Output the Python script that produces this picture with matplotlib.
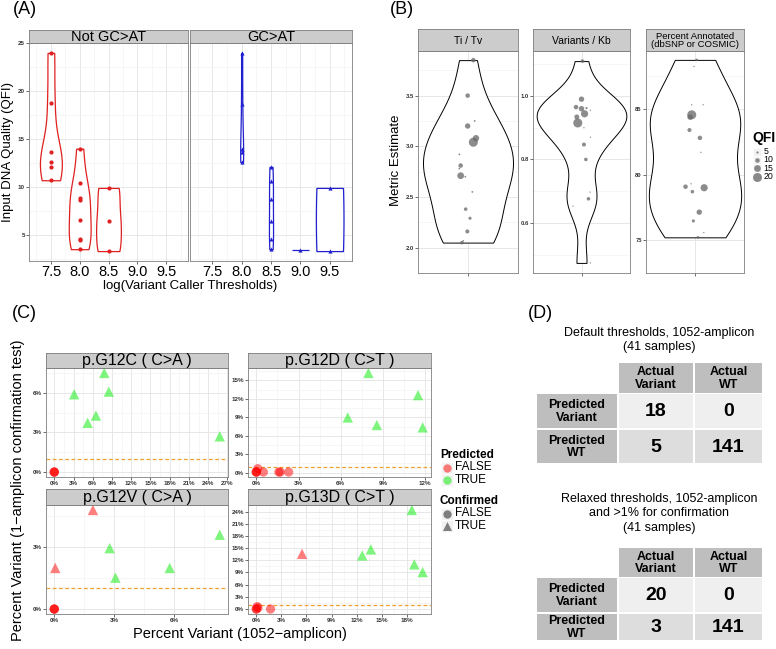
import numpy as np
import matplotlib
matplotlib.use('Agg')
import matplotlib.pyplot as plt
from matplotlib.patches import Rectangle

W, H = 776, 649
plt.rcParams['font.family'] = ['Liberation Sans Narrow', 'Liberation Sans', 'DejaVu Sans']

# ---- (A) input DNA quality by log(variant caller threshold) ----
a_levels_not_gcat = [7.5, 8.0, 8.5]
a_qfi_not_gcat = [
    [24.0, 18.8, 13.7, 12.6, 12.1, 10.7],
    [14.0, 10.4, 8.8, 8.6, 6.5, 4.6, 4.5, 3.5],
    [9.9, 6.4, 3.3],
]
a_levels_gcat = [8.0, 8.5, 9.0, 9.5]
a_qfi_gcat = [
    [24.0, 18.7, 14.0, 13.6, 12.6],
    [12.1, 10.6, 8.7, 6.4, 4.6, 3.5],
    [3.4],
    [9.9, 3.3],
]
a_ticks = [7.5, 8.0, 8.5, 9.0, 9.5]

# ---- (B) metric estimates, point size = QFI ----
b_titles = ['Ti / Tv', 'Variants / Kb', 'Percent Annotated\n(dbSNP or COSMIC)']
b_titv = [3.85, 3.50, 3.25, 3.20, 3.08, 3.04, 2.92, 2.81, 2.78, 2.71, 2.70, 2.55,
          2.38, 2.29, 2.16, 2.07, 2.05]
b_titv_qfi = [10, 10, 4, 12, 14, 20, 4, 10, 4, 15, 4, 4, 8, 7, 9, 3, 8]
b_titv_jitter = [0.064, -0.004, 0.08, -0.004, 0.096, 0.064, -0.104, -0.088, -0.104,
                 -0.088, -0.032, 0.052, -0.028, 0.024, -0.008, -0.056, -0.072]
b_vkb = [1.11, 0.99, 0.965, 0.96, 0.962, 0.955, 0.934, 0.944, 0.915, 0.90, 0.87,
         0.847, 0.80, 0.697, 0.676, 0.653, 0.474]
b_vkb_qfi = [8, 12, 10, 12, 5, 3, 11, 16, 20, 3, 3, 9, 8, 3, 8, 3, 3]
b_vkb_jitter = [0.012, 0.0, -0.068, 0.0, 0.062, 0.11, -0.058, 0.038, -0.046, 0.03,
                0.11, 0.03, 0.054, 0.106, 0.086, -0.106, 0.11]
b_annot = [88.75, 88.24, 85.33, 85.33, 84.56, 84.38, 83.4, 82.8, 81.7, 79.0, 79.08,
           79.3, 78.7, 77.14, 76.47, 75.58, 75.22]
b_annot_qfi = [6, 3, 3, 3, 20, 12, 9, 10, 3, 16, 10, 3, 8, 12, 7, 3, 6]
b_annot_jitter = [0.02, -0.012, -0.04, 0.1, -0.04, -0.06, -0.068, 0.06, 0.072, 0.112,
                  -0.116, -0.048, -0.032, 0.052, -0.02, 0.108, 0.036]
b_tick_steps = [0.5, 0.2, 5]
b_legend_qfi = [5, 10, 15, 20]

# ---- (C) percent variant, 1052-amplicon vs 1-amplicon confirmation ----
c_titles = ['p.G12C ( C>A )', 'p.G12D ( C>T )', 'p.G12V ( C>A )', 'p.G13D ( C>T )']
c_x = [
    [0, 0, 0, 3.1, 7.8, 8.5, 6.5, 5.2, 25.8],
    [0, 0, 0, 0.1, 0.5, 1.6, 1.7, 2.3, 7.97, 11.5, 6.5, 8.57, 11.83],
    [0, 0, 0, 1.94, 0.05, 2.78, 3.07, 5.79, 8.3],
    [0, 0, 0.2, 0.1, 1.7, 5.47, 12.67, 13.7, 18.6, 18.9, 19.9],
]
c_y = [
    [0, 0, 0, 5.88, 7.49, 6.08, 4.27, 3.72, 2.70],
    [0.1, 0.1, 0.1, 0.65, 0.1, 0.1, 0.1, 0.1, 16.2, 12.6, 8.97, 7.74, 7.36],
    [0, 0, 0, 4.8, 1.99, 2.95, 1.52, 1.99, 3.6],
    [0, 0, 0.3, 0.6, 0, 13.6, 13.2, 14.7, 24.4, 11.0, 9.1],
]
c_predicted = [
    [False] * 3 + [True] * 6,
    [False] * 8 + [True] * 5,
    [False] * 5 + [True] * 4,
    [False] * 6 + [True] * 5,
]
c_confirmed = [
    [False] * 3 + [True] * 6,
    [False] * 8 + [True] * 5,
    [False] * 3 + [True] * 6,
    [False] * 5 + [True] * 6,
]
c_threshold = 1.0

# ---- (D) confusion tables ----
d_col_headers = ['Actual\nVariant', 'Actual\nWT']
d_row_headers = ['Predicted\nVariant', 'Predicted\nWT']
d_default_title = 'Default thresholds, 1052-amplicon\n(41 samples)'
d_default_counts = [[18, 0], [5, 141]]
d_relaxed_title = 'Relaxed thresholds, 1052-amplicon\nand >1% for confirmation\n(41 samples)'
d_relaxed_counts = [[20, 0], [3, 141]]

fig = plt.figure(figsize=(W / 100, H / 100), dpi=100)

BORDER = '#7F7F7F'
TICK = '#333333'


def px_axes(x0, y0, x1, y1):
    return fig.add_axes([x0 / W, 1 - y1 / H, (x1 - x0) / W, (y1 - y0) / H])


def strip(x0, y0, x1, y1, label, size):
    ax = px_axes(x0, y0, x1, y1)
    ax.set_facecolor('#CCCCCC')
    ax.set_xticks([])
    ax.set_yticks([])
    for sp in ax.spines.values():
        sp.set_color(BORDER)
        sp.set_linewidth(0.6)
    ax.text(0.5, 0.47, label, ha='center', va='center', fontsize=size,
            transform=ax.transAxes, linespacing=0.95)
    return ax


def panel(x0, y0, x1, y1):
    ax = px_axes(x0, y0, x1, y1)
    for sp in ax.spines.values():
        sp.set_color(BORDER)
        sp.set_linewidth(0.6)
    ax.grid(True, which='major', color='#E3E3E3', lw=0.6)
    ax.grid(True, which='minor', color='#F3F3F3', lw=0.5)
    ax.set_axisbelow(True)
    ax.tick_params(which='major', length=2, width=0.5, color=TICK, pad=1)
    ax.tick_params(which='minor', length=0)
    return ax


def nrd0(kde):
    d = kde.dataset[0]
    sd = d.std(ddof=1)
    q75, q25 = np.percentile(d, [75, 25])
    lo = min(sd, (q75 - q25) / 1.34) if q75 > q25 else sd
    return 0.9 * lo * len(d) ** -0.2 / sd


def violin(ax, values, pos, width, color, lw, bw=None):
    vals = np.asarray(values, float)
    if np.ptp(vals) == 0:
        ax.hlines(vals[0], pos - width / 2, pos + width / 2, color=color, lw=lw)
        return
    parts = ax.violinplot([vals], positions=[pos], widths=width, showextrema=False,
                          bw_method=bw if bw is not None else nrd0)
    for body in parts['bodies']:
        body.set_facecolor('white')
        body.set_edgecolor(color)
        body.set_linewidth(lw)
        body.set_alpha(1)


def padded(vals, frac=0.05):
    lo, hi = min(vals), max(vals)
    pad = (hi - lo) * frac
    return lo - pad, hi + pad


def qfi_size(q):
    return np.asarray(q, float) ** 2 / 9.5


ov = fig.add_axes([0, 0, 1, 1], zorder=10)
ov.set_xlim(0, W)
ov.set_ylim(H, 0)
ov.axis('off')
ov.patch.set_alpha(0)

# ------------------------------------------------------------------ (A)
a_all = [v for g in a_qfi_not_gcat + a_qfi_gcat for v in g]
a_ylim = padded(a_all)
a_specs = [
    ((29, 43, 188, 261), 'Not GC>AT', a_levels_not_gcat, a_qfi_not_gcat,
     [0.38, 0.38, 0.43], [None, None, None], '#E02020', 'o'),
    ((190, 43, 352, 261), 'GC>AT', a_levels_gcat, a_qfi_gcat,
     [0.05, 0.07, 0.28, 0.47], [None, None, None, 2.5], '#2020D0', '^'),
]
for i, (box, title, levels, groups, widths, bws, color, marker) in enumerate(a_specs):
    x0, y0, x1, y1 = box
    ax = panel(x0, y0, x1, y1)
    strip(x0, 30, x1, y0, title, 10.5)
    for lev, vals, w, bw in zip(levels, groups, widths, bws):
        violin(ax, vals, lev, w, color, 0.9, bw)
        ax.scatter([lev] * len(vals), vals, s=9, color=color, marker=marker,
                   lw=0, zorder=3)
    ax.set_xlim(7.12, 9.88)
    ax.set_ylim(*a_ylim)
    ax.set_xticks(a_ticks, [f'{t:.1f}' for t in a_ticks], fontsize=10.5)
    ax.set_xticks(np.arange(7.25, 9.9, 0.5), minor=True)
    yt = [5, 10, 15, 20, 25]
    if i == 0:
        ax.set_yticks(yt, [str(t) for t in yt], fontsize=4.5, fontweight='bold', color=TICK)
    else:
        ax.set_yticks(yt, [''] * len(yt))
        ax.tick_params(axis='y', length=0)
    ax.set_yticks(np.arange(2.5, 25, 5), minor=True)

ov.text(190, 286, 'log(Variant Caller Thresholds)', ha='center', va='center', fontsize=9.5)
ov.text(8, 152, 'Input DNA Quality (QFI)', ha='center', va='center', rotation=90, fontsize=9.5)
ov.text(25, 9, '(A)', ha='center', va='center', fontsize=13)

# ------------------------------------------------------------------ (B)
b_values = [b_titv, b_vkb, b_annot]
b_qfis = [b_titv_qfi, b_vkb_qfi, b_annot_qfi]
b_jitters = [b_titv_jitter, b_vkb_jitter, b_annot_jitter]
b_boxes = [(418, 518), (533, 630), (646, 744)]
b_widths = [1.08, 1.11, 1.13]
for title, vals, qfi, jit, (x0, x1), w, step in zip(b_titles, b_values, b_qfis, b_jitters,
                                                    b_boxes, b_widths, b_tick_steps):
    ax = panel(x0, 51, x1, 273)
    strip(x0, 29, x1, 51, title, 7.5 if '\n' not in title else 6.8)
    violin(ax, vals, 1, w, 'black', 0.7)
    ax.scatter(1 + np.asarray(jit), vals, s=qfi_size(qfi), color='#666666', alpha=0.75,
               lw=0, zorder=3)
    ax.set_xlim(0.4, 1.6)
    ylo, yhi = padded(vals)
    ax.set_ylim(ylo, yhi)
    ticks = np.arange(np.ceil(ylo / step) * step, yhi, step)
    fmt = '{:.0f}' if step >= 1 else '{:.1f}'
    ax.set_yticks(ticks, [fmt.format(t) for t in ticks], fontsize=4.2, fontweight='bold',
                  color=TICK)
    ax.set_yticks(np.arange(ticks[0] - step / 2, yhi, step), minor=True)
    ax.set_xticks([1], [''])

ov.text(396, 160, 'Metric Estimate', ha='center', va='center', rotation=90, fontsize=9.5)
ov.text(402, 9, '(B)', ha='center', va='center', fontsize=13)
ov.text(752, 138, 'QFI', ha='left', va='center', fontsize=10, fontweight='bold')
for k, q in enumerate(b_legend_qfi):
    yk = 151.5 + k * 8.4
    ov.add_patch(Rectangle((752.5, yk - 4), 8, 8, facecolor='#F2F2F2', edgecolor='white', lw=0.5))
    ov.scatter([756.5], [yk], s=qfi_size(q), color='#666666', alpha=0.75, lw=0)
    ov.text(763.5, yk, str(q), ha='left', va='center', fontsize=6.3)

# ------------------------------------------------------------------ (C)
c_boxes = [(46, 368, 228, 477), (248, 368, 431, 477), (46, 505, 228, 614), (248, 505, 431, 614)]
c_strip_tops = [353, 353, 489, 489]
c_red = (1.0, 0.0, 0.0, 0.5)
c_green = (0.0, 0.93, 0.0, 0.5)
for title, xs, ys, pred, conf, box, st in zip(c_titles, c_x, c_y, c_predicted, c_confirmed,
                                             c_boxes, c_strip_tops):
    x0, y0, x1, y1 = box
    ax = panel(x0, y0, x1, y1)
    strip(x0, st, x1, y0, title, 11.5)
    xs = np.asarray(xs, float)
    ys = np.asarray(ys, float)
    pred = np.asarray(pred)
    conf = np.asarray(conf)
    for is_conf, marker, size in [(False, 'o', 44), (True, '^', 56)]:
        m = conf == is_conf
        colors = [c_green if p else c_red for p in pred[m]]
        ax.scatter(xs[m], ys[m], s=size, marker=marker, c=colors, lw=0, zorder=3)
    ax.axhline(c_threshold, color='#F0A030', lw=0.9, ls=(0, (3, 2)), zorder=2)
    xlim = padded(xs)
    ylim = padded(ys)
    xt = np.arange(0, xlim[1], 3)
    yt = np.arange(0, ylim[1], 3)
    ax.set_xticks(xt, [f'{t:.0f}%' for t in xt], fontsize=4.5, fontweight='bold', color=TICK)
    ax.set_yticks(yt, [f'{t:.0f}%' for t in yt], fontsize=4.5, fontweight='bold', color=TICK)
    ax.set_xticks(xt + 1.5, minor=True)
    ax.set_yticks(yt + 1.5, minor=True)
    ax.set_xlim(*xlim)
    ax.set_ylim(*ylim)

ov.text(240, 634, 'Percent Variant (1052\u2212amplicon)', ha='center', va='center', fontsize=10.5)
ov.text(18, 490, 'Percent Variant (1\u2212amplicon confirmation test)', ha='center', va='center',
        rotation=90, fontsize=10.5)
ov.text(24, 314, '(C)', ha='center', va='center', fontsize=13)

legend_blocks = [
    ('Predicted', 455, [('FALSE', 'o', c_red), ('TRUE', 'o', c_green)]),
    ('Confirmed', 501, [('FALSE', 'o', '#7F7F7F'), ('TRUE', '^', '#7F7F7F')]),
]
for ltitle, ly, entries in legend_blocks:
    ov.text(440, ly, ltitle, ha='left', va='center', fontsize=8.5, fontweight='bold')
    for k, (lab, mk, col) in enumerate(entries):
        yk = ly + 12.5 * (k + 1)
        ov.add_patch(Rectangle((440.5, yk - 6), 12, 12, facecolor='#F2F2F2', edgecolor='white', lw=0.5))
        ov.scatter([446.5], [yk], s=36 if mk == 'o' else 42, marker=mk, c=[col], lw=0)
        ov.text(455, yk, lab, ha='left', va='center', fontsize=8.5)

# ------------------------------------------------------------------ (D)
ov.text(540, 314, '(D)', ha='center', va='center', fontsize=13)
d_cols = [(537, 617), (619, 693), (695, 762)]


def draw_table(title, title_y, counts, header, rows):
    ov.text(659, title_y, title, ha='center', va='top', fontsize=9, linespacing=1.25)
    cells = [(d_cols[c + 1], header, '#BEBEBE', d_col_headers[c], 9) for c in range(2)]
    for r, row in enumerate(rows):
        cells.append((d_cols[0], row, '#BEBEBE', d_row_headers[r], 9))
        data_bg = '#EFEFEF' if r == 0 else '#DDDDDD'
        for c in range(2):
            cells.append((d_cols[c + 1], row, data_bg, str(counts[r][c]), 14))
    for (cx0, cx1), (cy0, cy1), bg, txt, fs in cells:
        ov.add_patch(Rectangle((cx0, cy0), cx1 - cx0, cy1 - cy0, facecolor=bg, edgecolor='none'))
        ov.text((cx0 + cx1) / 2, (cy0 + cy1) / 2 + 0.5, txt, ha='center', va='center',
                fontsize=fs, fontweight='bold', linespacing=1.05)


draw_table(d_default_title, 327, d_default_counts, (363, 393), [(394, 428), (430, 463)])
draw_table(d_relaxed_title, 493, d_relaxed_counts, (548, 577), [(578, 612), (614, 640)])

fig.savefig('out.png', dpi=100)
